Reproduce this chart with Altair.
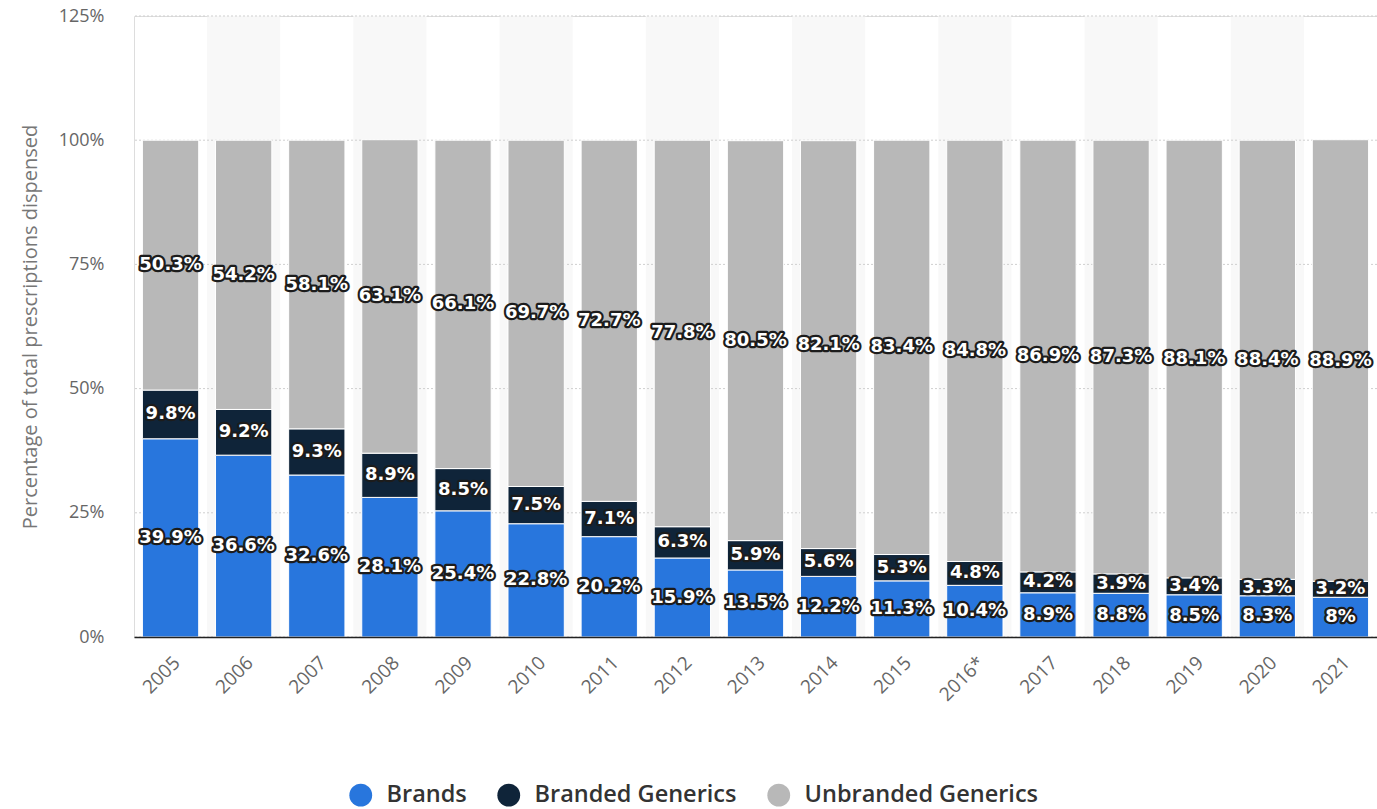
import altair as alt
import pandas as pd

years = ["2005", "2006", "2007", "2008", "2009", "2010", "2011", "2012", "2013",
         "2014", "2015", "2016*", "2017", "2018", "2019", "2020", "2021"]
brands = [39.9, 36.6, 32.6, 28.1, 25.4, 22.8, 20.2, 15.9, 13.5, 12.2, 11.3, 10.4, 8.9, 8.8, 8.5, 8.3, 8]
branded_generics = [9.8, 9.2, 9.3, 8.9, 8.5, 7.5, 7.1, 6.3, 5.9, 5.6, 5.3, 4.8, 4.2, 3.9, 3.4, 3.3, 3.2]
unbranded_generics = [50.3, 54.2, 58.1, 63.1, 66.1, 69.7, 72.7, 77.8, 80.5, 82.1, 83.4, 84.8, 86.9, 87.3, 88.1, 88.4, 88.9]

series = ["Brands", "Branded Generics", "Unbranded Generics"]
colors = ["#2876dd", "#0f2439", "#b8b8b8"]
y_ticks = [0, 25, 50, 75, 100, 125]

rows = []
for i, y in enumerate(years):
    for k, (name, vals) in enumerate(zip(series, [brands, branded_generics, unbranded_generics])):
        v = vals[i]
        rows.append({"year": y, "series": name, "value": v, "order": k, "label": f"{v:g}%"})
df = pd.DataFrame(rows)

band_df = pd.DataFrame({"year": [y for i, y in enumerate(years) if i % 2 == 1]})
grid_df = pd.DataFrame({"v": y_ticks})

FONT = "Open Sans"
LABEL_FONT = "DejaVu Sans"

x_enc = alt.X(
    "year:N",
    sort=years,
    scale=alt.Scale(domain=years, paddingInner=0, paddingOuter=0),
    axis=alt.Axis(
        title=None, labelAngle=-45, labelFontSize=19, labelColor="#666666",
        labelFont=FONT, ticks=False, domain=True, domainColor="#222222",
        domainWidth=1.5, labelPadding=16, grid=False,
    ),
)

y_scale = alt.Scale(domain=[0, 125], nice=False)
y_axis = alt.Axis(
    title="Percentage of total prescriptions dispensed", titleFontSize=20,
    titleColor="#777777", titleFont=FONT, titleFontWeight="normal", titlePadding=18,
    values=y_ticks, labelExpr="datum.value + '%'", labelFontSize=18,
    labelColor="#666666", labelFont=FONT, labelPadding=30,
    ticks=False, domain=False, grid=False,
)

bands = alt.Chart(band_df).mark_rect(color="#f8f8f8").encode(
    x=x_enc,
    y=alt.datum(0, scale=y_scale, axis=y_axis),
    y2=alt.datum(125),
)

grid = alt.Chart(grid_df).mark_rule(color="#cfcfcf", strokeDash=[2, 2], strokeWidth=1).encode(
    y=alt.Y("v:Q", scale=y_scale, axis=y_axis)
)

bars = alt.Chart(df).mark_bar(width={"band": 0.77}, stroke="white", strokeWidth=1).encode(
    x=x_enc,
    y=alt.Y("value:Q", stack="zero", scale=y_scale, axis=y_axis),
    color=alt.Color(
        "series:N",
        scale=alt.Scale(domain=series, range=colors),
        legend=alt.Legend(
            title=None, orient="none", legendX=215, legendY=767, direction="horizontal",
            symbolType="circle", symbolSize=520, symbolStrokeWidth=0,
            labelFontSize=23.5, labelFont=FONT, labelFontWeight=600, labelColor="#333333",
            labelOffset=14, columnPadding=30, labelLimit=0,
        ),
    ),
    order=alt.Order("order:Q"),
)

text_base = alt.Chart(df).transform_stack(
    stack="value", groupby=["year"], sort=[alt.SortField("order")], as_=["v0", "v1"]
).transform_calculate(mid="(datum.v0 + datum.v1) / 2")

halo = text_base.mark_text(
    font=LABEL_FONT, fontSize=18, fontWeight="bold", color="white",
    stroke="#1c1c1c", strokeWidth=4.5, strokeJoin="round", baseline="middle",
).encode(x=x_enc, y=alt.Y("mid:Q", scale=y_scale, axis=y_axis), text="label:N")

labels = text_base.mark_text(
    font=LABEL_FONT, fontSize=18, fontWeight="bold", color="white", baseline="middle",
).encode(x=x_enc, y=alt.Y("mid:Q", scale=y_scale, axis=y_axis), text="label:N")

chart = alt.layer(bands, grid, bars, halo, labels).properties(
    width=1243, height=621,
    autosize=alt.AutoSizeParams(type="none"),
    padding={"left": 134, "top": 16, "right": 0, "bottom": 172},
).configure_view(stroke=None).configure(background="white")

chart.save("out.html", embed_options={"renderer": "svg", "actions": False})
